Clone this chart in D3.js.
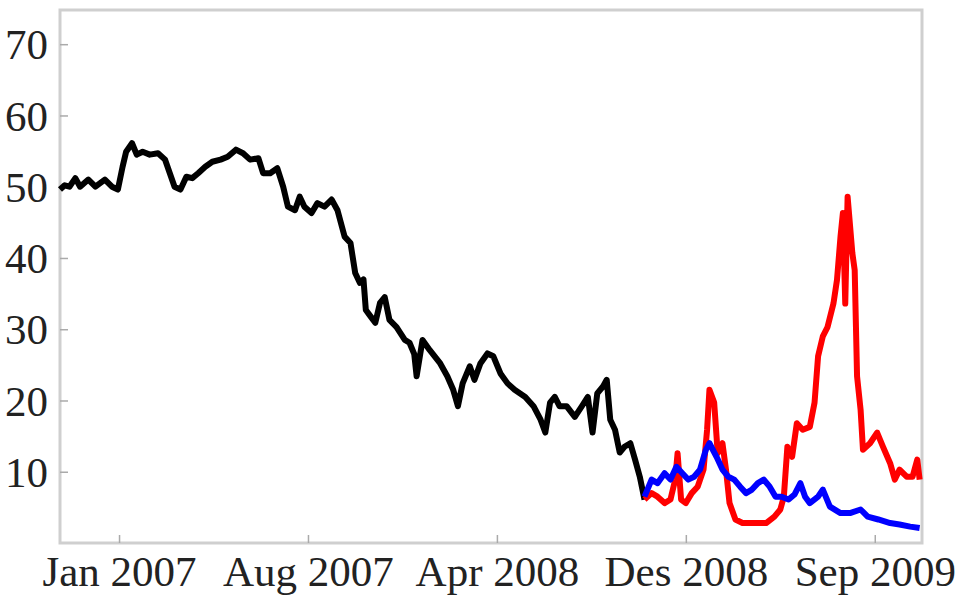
<!DOCTYPE html>
<html>
<head>
<meta charset="utf-8">
<script src="https://cdn.jsdelivr.net/npm/d3@7"></script>
<style>
  body { margin: 0; background: #fff; }
  svg text { font-family: "Liberation Serif", "Times New Roman", serif; fill: #222; }
</style>
</head>
<body>
<div id="chart"></div>
<script>
// x is a trading-day index, y the value
var tickDays   = [50, 210, 370, 530, 690];
var tickLabels = ["Jan 2007", "Aug 2007", "Apr 2008", "Des 2008", "Sep 2009"];
var yTicks     = [10, 20, 30, 40, 50, 60, 70];

var blackSeries = [
  [0,49.6],[4,50.2],[8,50],[13,51.2],[17,50],[24,51],[30,50],[34,50.5],[38,51],[44,50],
  [49,49.6],[53,52.8],[56,54.9],[61,56.1],[65,54.5],[70,54.9],[76,54.5],[83,54.7],[89,53.8],[93,51.9],
  [97,50],[102,49.6],[107,51.4],[112,51.2],[117,51.9],[123,52.8],[129,53.5],[136,53.8],[142,54.2],[149,55.2],
  [155,54.7],[161,53.8],[168,54],[172,51.9],[178,51.9],[184,52.6],[189,50],[193,47.2],[199,46.7],[203,48.6],
  [207,47.2],[213,46.3],[218,47.7],[224,47.2],[230,48.2],[235,46.7],[241,43],[246,42.1],[250,37.9],[254,36.5],
  [257,37],[259,32.7],[263,31.8],[267,30.9],[271,33.7],[275,34.5],[279,31.3],[285,30.3],[292,28.5],[296,28.1],
  [300,26.5],[302,23.4],[307,28.5],[313,27.1],[322,25.2],[328,23.4],[333,21.5],[337,19.2],[341,22.4],[347,24.8],
  [351,22.9],[356,25.2],[362,26.6],[367,26.2],[373,23.8],[379,22.4],[385,21.5],[394,20.5],[401,19.2],[407,17.3],
  [411,15.5],[415,19.7],[419,20.5],[423,19.2],[429,19.2],[436,17.7],[442,19.2],[447,20.5],[451,15.5],[455,21],
  [460,22],[463,22.9],[466,17.3],[470,15.9],[474,12.7],[478,13.5],[483,14],[487,11.7],[491,9.3],[495,6.1]
];

var redSeries = [
  [495,6.1],[501,7],[506,6.5],[512,5.6],[517,6.1],[521,8.9],[523,12.6],[526,6.1],[530,5.6],[535,7],
  [540,7.9],[545,10.3],[548,15.9],[550,21.5],[554,19.7],[557,12.6],[561,14],[564,10.3],[567,5.6],[572,3.3],
  [578,2.8],[584,2.8],[591,2.8],[598,2.8],[605,3.7],[610,4.7],[613,6.5],[616,13.5],[620,12.1],[624,16.8],
  [629,15.9],[635,16.3],[639,19.7],[642,26.2],[646,29],[650,30.3],[655,33.6],[658,36.9],[661,43],[663,46.3],
  [665,33.6],[667,48.6],[671,40.7],[673,38.3],[675,23.4],[678,18.7],[680,13.1],[686,14],[692,15.5],[697,13.5],
  [703,11.2],[707,8.9],[711,10.3],[717,9.3],[722,9.3],[726,11.7],[728,8.9]
];

var blueSeries = [
  [495,6.5],[501,8.9],[506,8.4],[512,9.8],[517,8.9],[522,10.7],[527,9.8],[532,8.9],[537,9.3],[542,10.3],
  [547,13.1],[550,14],[556,12.1],[561,10.3],[566,9.3],[571,8.9],[576,7.9],[581,7],[586,7.5],[591,8.4],
  [596,8.9],[601,7.9],[606,6.5],[611,6.5],[617,6.1],[622,6.8],[627,8.4],[631,6.5],[635,5.6],[642,6.5],
  [646,7.5],[652,5.1],[661,4.2],[669,4.2],[678,4.7],[684,3.7],[693,3.3],[703,2.8],[711,2.6],[720,2.3],[728,2.1]
];

var margin = {top: 10, right: 38, bottom: 67, left: 60},
    width = 960 - margin.left - margin.right,
    height = 610 - margin.top - margin.bottom;

var svg = d3.select("#chart").append("svg")
    .attr("width", 960)
    .attr("height", 610)
  .append("g")
    .attr("transform", "translate(" + margin.left + "," + margin.top + ")");

var x = d3.scaleLinear().domain([0, 730]).range([0, width]);
var y = d3.scaleLinear().domain([0, 74.8]).range([height, 0]);

// frame
svg.append("rect")
    .attr("x", 0).attr("y", 0)
    .attr("width", width).attr("height", height)
    .attr("fill", "none")
    .attr("stroke", "#cfcfcf")
    .attr("stroke-width", 3);

// y axis
var yAxis = svg.append("g")
    .call(d3.axisLeft(y).tickValues(yTicks).tickSize(-8).tickPadding(12));
yAxis.select(".domain").remove();
yAxis.selectAll("line").attr("stroke", "#aaa").attr("stroke-width", 1.5);
yAxis.selectAll("text").style("font-size", "43px").attr("dy", "0.34em");

// x axis
var xAxis = svg.append("g")
    .attr("transform", "translate(0," + height + ")")
    .call(d3.axisBottom(x).tickValues(tickDays)
      .tickFormat(function(d, i) { return tickLabels[i]; })
      .tickSize(-8).tickPadding(12));
xAxis.select(".domain").remove();
xAxis.selectAll("line").attr("stroke", "#aaa").attr("stroke-width", 1.5);
xAxis.selectAll("text").style("font-size", "43px").attr("dy", "0.71em");

var line = d3.line()
    .x(function(d) { return x(d[0]); })
    .y(function(d) { return y(d[1]); });

var series = [
  {data: blackSeries, color: "#000"},
  {data: redSeries,   color: "#f00"},
  {data: blueSeries,  color: "#00f"}
];

svg.selectAll(".series")
    .data(series)
    .enter().append("path")
      .attr("class", "series")
      .attr("d", function(d) { return line(d.data); })
      .attr("fill", "none")
      .attr("stroke", function(d) { return d.color; })
      .attr("stroke-width", 6)
      .attr("stroke-linejoin", "round");
</script>
</body>
</html>
